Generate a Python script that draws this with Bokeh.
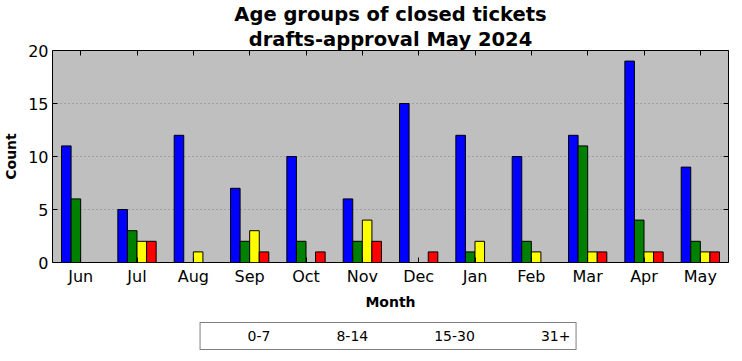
import numpy as np
from bokeh.plotting import figure
from bokeh.layouts import column
from bokeh.models import (Range1d, Legend, LegendItem, Title, LinearAxis,
                          ColumnDataSource, FixedTicker)
from bokeh.transform import dodge
from bokeh.embed import file_html
from bokeh.resources import INLINE

months = ["Jun", "Jul", "Aug", "Sep", "Oct", "Nov", "Dec", "Jan", "Feb", "Mar", "Apr", "May"]
age_groups = ["0-7", "8-14", "15-30", "31+"]
count_0_7 = [11, 5, 12, 7, 10, 6, 15, 12, 10, 12, 19, 9]
count_8_14 = [6, 3, 0, 2, 2, 2, 0, 1, 2, 11, 4, 2]
count_15_30 = [0, 2, 1, 3, 0, 4, 0, 2, 1, 1, 1, 1]
count_31_plus = [0, 2, 0, 1, 1, 2, 1, 0, 0, 1, 1, 1]
y_ticks = [0, 5, 10, 15, 20]

colors = ["#0000ff", "#008000", "#ffff00", "#ff0000"]
FONT = "DejaVu Sans"

n = len(months)
idx = list(range(n))
src = ColumnDataSource(dict(pos=idx, month=months, g0=count_0_7, g1=count_8_14,
                            g2=count_15_30, g3=count_31_plus))

p = figure(frame_width=676, frame_height=212, x_range=Range1d(-0.5, n - 0.5),
           y_range=Range1d(0, 20), output_backend="svg", toolbar_location=None,
           min_border_left=48, min_border_right=2, min_border_top=48, min_border_bottom=0)
p.title = None

bw = 0.17
offsets = [-1.5 * bw, -0.5 * bw, 0.5 * bw, 1.5 * bw]
for i, key in enumerate(["g0", "g1", "g2", "g3"]):
    p.vbar(x=dodge("pos", offsets[i]), top=key, width=bw,
           source=src, fill_color=colors[i], line_color="black", line_width=1)

p.background_fill_color = "#bfbfbf"
p.border_fill_color = "white"
p.outline_line_color = "black"
p.outline_line_width = 1
p.xgrid.grid_line_color = None
p.ygrid.grid_line_color = "#808080"
p.ygrid.grid_line_dash = "1 3"
p.ygrid.ticker = FixedTicker(ticks=y_ticks)

# bottom axis
xa = p.xaxis[0]
xa.ticker = FixedTicker(ticks=idx)
xa.major_label_overrides = {i: m for i, m in zip(idx, months)}
xa.minor_tick_line_color = None
xa.axis_label = "Month"
xa.axis_label_text_font = FONT
xa.axis_label_text_font_style = "bold"
xa.axis_label_text_font_size = "14px"
xa.axis_label_text_color = "black"
xa.major_label_text_font = FONT
xa.major_label_text_font_size = "16px"
xa.major_label_text_color = "black"
xa.major_tick_in = 5
xa.major_tick_out = 0
xa.major_tick_line_color = "black"
xa.axis_line_color = None
xa.major_label_standoff = 4
xa.axis_label_standoff = 5

ya = p.yaxis[0]
ya.ticker = FixedTicker(ticks=y_ticks)
ya.axis_label = "Count"
ya.axis_label_text_font = FONT
ya.axis_label_text_font_style = "bold"
ya.axis_label_text_font_size = "14px"
ya.axis_label_text_color = "black"
ya.major_label_text_font = FONT
ya.major_label_text_font_size = "16px"
ya.major_label_text_color = "black"
ya.major_tick_in = 5
ya.major_tick_out = 0
ya.major_tick_line_color = "black"
ya.minor_tick_line_color = None
ya.axis_line_color = None
ya.major_label_standoff = 4
ya.axis_label_standoff = 6

# top and right inward ticks (no labels)
ta = LinearAxis(ticker=FixedTicker(ticks=idx),
                major_label_overrides={i: "" for i in idx},
                major_tick_in=5, major_tick_out=0, minor_tick_line_color=None,
                major_tick_line_color="black", axis_line_color=None, major_label_standoff=0)
p.add_layout(ta, "above")
ra = LinearAxis(ticker=FixedTicker(ticks=y_ticks),
                major_label_overrides={t: "" for t in y_ticks},
                major_tick_in=5, major_tick_out=0, minor_tick_line_color=None,
                major_tick_line_color="black", axis_line_color=None, major_label_standoff=0)
p.add_layout(ra, "right")

t2 = Title(text="drafts-approval May 2024", align="center", text_font=FONT,
           text_font_size="19.5px", text_font_style="bold", text_color="black", standoff=0)
t1 = Title(text="Age groups of closed tickets", align="center", text_font=FONT,
           text_font_size="19.5px", text_font_style="bold", text_color="black", standoff=0)
p.add_layout(t2, "above")
p.add_layout(t1, "above")

# legend strip below the chart
lg = figure(width=726, height=48, x_range=Range1d(0, 1), y_range=Range1d(0, 1),
            output_backend="svg", toolbar_location=None,
            min_border_left=48, min_border_right=2, min_border_top=0, min_border_bottom=0)
lg.title = None
lg.axis.visible = False
lg.grid.visible = False
lg.outline_line_color = None
lg.background_fill_color = "white"
lg.border_fill_color = "white"
lg_renderers = []
for c in colors:
    lg_renderers.append(lg.vbar(x=[], top=[], width=bw, fill_color=c,
                                line_color="black", line_width=1))

legend = Legend(items=[LegendItem(label=g, renderers=[r]) for g, r in zip(age_groups, lg_renderers)],
                orientation="horizontal", location="center",
                label_text_font=FONT, label_text_font_size="14px", label_text_color="black",
                glyph_width=35, glyph_height=12, label_height=15, label_standoff=7,
                spacing=24, padding=5, margin=0,
                border_line_color="black", border_line_width=1,
                background_fill_color="white", background_fill_alpha=1)
lg.add_layout(legend, "center")

layout = column(p, lg, spacing=0)
open("out.html", "w").write(file_html(layout, INLINE))
